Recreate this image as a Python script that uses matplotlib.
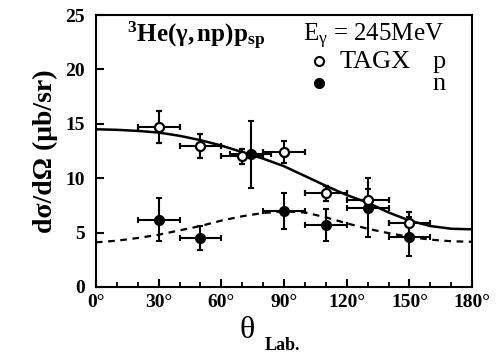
import numpy as np
import matplotlib
matplotlib.use('Agg')
import matplotlib.pyplot as plt

# serif look like the scanned figure
plt.rcParams['font.family'] = 'Liberation Serif'
plt.rcParams['mathtext.fontset'] = 'custom'
plt.rcParams['mathtext.rm'] = 'Liberation Serif'
plt.rcParams['mathtext.it'] = 'Liberation Serif:italic'
plt.rcParams['mathtext.bf'] = 'Liberation Serif:bold'

# TAGX proton points (open)
p_angle = [30, 50, 70, 90, 110, 130, 150]
p_val = [14.7, 13.0, 12.0, 12.4, 8.6, 8.0, 5.9]
p_err = [1.5, 1.1, 0.7, 1.0, 0.7, 1.0, 1.0]

# TAGX neutron points (filled)
n_angle = [30, 50, 74, 90, 110, 130, 150]
n_val = [6.2, 4.5, 12.2, 7.0, 5.7, 7.3, 4.6]
n_err = [2.0, 1.1, 3.1, 1.65, 1.45, 2.7, 1.8]

ang_err = 10

# calculation curves
curve_angle = [0, 10, 20, 30, 40, 50, 60, 70, 80, 90, 100, 110, 120, 130, 140, 150, 160, 170, 180]
solid_val = [14.5, 14.45, 14.35, 14.2, 13.9, 13.5, 13.0, 12.4, 11.8, 11.1, 10.2, 9.3, 8.45, 7.75, 6.85, 6.1, 5.6, 5.35, 5.3]
dashed_val = [4.1, 4.25, 4.5, 4.8, 5.2, 5.6, 6.1, 6.5, 6.8, 6.95, 6.85, 6.4, 5.85, 5.35, 4.95, 4.6, 4.35, 4.2, 4.15]

xticks = [0, 30, 60, 90, 120, 150, 180]
yticks = [0, 5, 10, 15, 20, 25]

fig = plt.figure(figsize=(4.97, 3.6), dpi=100)
ax = fig.add_axes([0.193, 0.203, 0.757, 0.755])

ax.plot(curve_angle, solid_val, 'k-', lw=1.8)
ax.plot(curve_angle, dashed_val, 'k--', lw=1.6, dashes=(3, 2.5))

ax.errorbar(p_angle, p_val, xerr=ang_err, yerr=p_err, fmt='o', mfc='white',
            mec='k', mew=1.6, ms=6.5, ecolor='k', elinewidth=1.5, capsize=2.5,
            capthick=1.5, zorder=4)
ax.errorbar(n_angle, n_val, xerr=ang_err, yerr=n_err, fmt='o', mfc='k',
            mec='k', ms=7, ecolor='k', elinewidth=1.5, capsize=2.5,
            capthick=1.5, zorder=3)

ax.set_xlim(0, 180)
ax.set_ylim(0, 25)
ax.set_xticks(xticks)
ax.set_xticklabels([str(t) + '°' for t in xticks])
ax.set_xticks(np.arange(0, 181, 10), minor=True)
ax.set_yticks(yticks)
ax.tick_params(direction='in', width=1.5, length=6, labelsize=14, pad=5)
ax.tick_params(axis='y', pad=8)
ax.tick_params(which='minor', direction='in', width=1.3, length=3.5)
for lab in ax.get_xticklabels() + ax.get_yticklabels():
    lab.set_fontweight('bold')
for s in ax.spines.values():
    s.set_linewidth(1.5)

ax.set_ylabel('dσ/dΩ (μb/sr)', fontsize=20, fontweight='bold', labelpad=5)
fig.text(0.497, 0.06, 'θ', fontsize=23, ha='center', va='baseline')
fig.text(0.532, 0.028, 'Lab.', fontsize=13, fontweight='bold', ha='left', va='baseline')

# annotations
ax.text(0.083, 0.9, r'$\mathbf{^{3}He(γ,np)p_{sp}}$', transform=ax.transAxes,
        fontsize=18, ha='left', va='baseline')
ax.text(0.55, 0.903, r'E$_\mathrm{γ}$ = 245MeV', transform=ax.transAxes,
        fontsize=18, ha='left', va='baseline')
ax.plot([0.592], [0.83], 'o', transform=ax.transAxes, mfc='white', mec='k', mew=1.5, ms=6.5)
ax.plot([0.592], [0.75], 'o', transform=ax.transAxes, mfc='k', mec='k', ms=7)
ax.text(0.648, 0.805, 'TAGX', transform=ax.transAxes, fontsize=19, ha='left', va='baseline')
ax.text(0.895, 0.805, 'p', transform=ax.transAxes, fontsize=19, ha='left', va='baseline')
ax.text(0.895, 0.725, 'n', transform=ax.transAxes, fontsize=19, ha='left', va='baseline')

fig.savefig('out.png', dpi=100)
